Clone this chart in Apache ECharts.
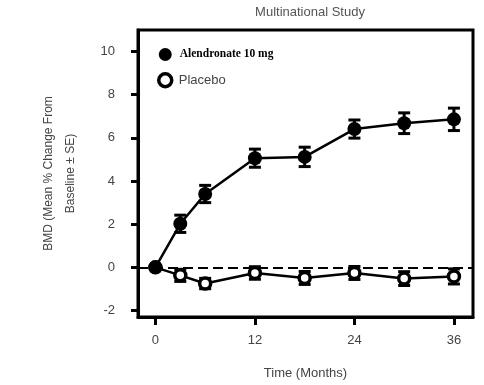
<!DOCTYPE html>
<html>
<head>
<meta charset="utf-8">
<script src="https://cdn.jsdelivr.net/npm/echarts@6/dist/echarts.min.js"></script>
<style>html,body{margin:0;padding:0;background:#fff}#c{width:484px;height:385px}</style>
</head>
<body>
<div id="c"></div>
<script>
var months = [0, 3, 6, 12, 18, 24, 30, 36];
var alendronate = [0, 2.02, 3.4, 5.06, 5.12, 6.41, 6.68, 6.86];
var alendronateSE = [0, 0.4, 0.4, 0.42, 0.45, 0.42, 0.48, 0.52];
var placebo = [0, -0.37, -0.75, -0.26, -0.49, -0.26, -0.52, -0.42];
var placeboSE = [0, 0.28, 0.24, 0.29, 0.3, 0.3, 0.32, 0.35];
var xTicks = [0, 12, 24, 36];
var yTicks = [-2, 0, 2, 4, 6, 8, 10];

var font = '"Liberation Sans Narrow", "Arial Narrow", "Liberation Sans", Arial, sans-serif';

function pairs(ys) { return months.map(function (m, i) { return [m, ys[i]]; }); }
function bars(ys, se) {
  var out = [];
  months.forEach(function (m, i) { if (se[i] > 0) out.push([m, ys[i] - se[i], ys[i] + se[i]]); });
  return out;
}
function renderBar(params, api) {
  var x = api.value(0);
  var lo = api.coord([x, api.value(1)]);
  var hi = api.coord([x, api.value(2)]);
  var hw = 6;
  var st = { stroke: '#000', lineWidth: 3 };
  return {
    type: 'group',
    children: [
      { type: 'line', shape: { x1: lo[0], y1: lo[1], x2: hi[0], y2: hi[1] }, style: st },
      { type: 'line', shape: { x1: lo[0] - hw, y1: lo[1], x2: lo[0] + hw, y2: lo[1] }, style: st },
      { type: 'line', shape: { x1: hi[0] - hw, y1: hi[1], x2: hi[0] + hw, y2: hi[1] }, style: st }
    ]
  };
}

var chart = echarts.init(document.getElementById('c'), null, { renderer: 'canvas' });
chart.setOption({
  animation: false,
  backgroundColor: '#fff',
  title: {
    text: 'Multinational Study', left: 305, top: 1, textAlign: 'center',
    textStyle: { fontFamily: font, fontSize: 13, fontWeight: 'normal', color: '#555' }
  },
  legend: {
    orient: 'vertical', left: 152, top: 43, itemGap: 11, itemWidth: 13, itemHeight: 13,
    icon: 'circle',
    data: [
      { name: 'Alendronate 10 mg', itemStyle: { color: '#000', borderWidth: 0 },
        textStyle: { fontFamily: '"Liberation Serif", "Times New Roman", serif', fontWeight: 'bold', fontSize: 11.5, color: '#000', padding: [0, 0, 0, 3] } },
      { name: 'Placebo', itemStyle: { color: '#fff', borderColor: '#000', borderWidth: 3.5 },
        textStyle: { fontFamily: font, fontSize: 13, color: '#444', padding: [0, 0, 0, 2] } }
    ]
  },
  grid: { left: 138, top: 30, width: 335, height: 287, show: true, borderColor: '#000', borderWidth: 3, backgroundColor: 'transparent' },
  xAxis: {
    type: 'value', min: -2.1, max: 38.3,
    name: 'Time (Months)', nameLocation: 'middle', nameGap: 50,
    nameTextStyle: { fontFamily: font, fontSize: 13, color: '#444' },
    axisLine: { show: true, onZero: false, lineStyle: { color: '#000', width: 3 } },
    axisTick: { show: true, customValues: xTicks, length: 8, lineStyle: { color: '#000', width: 3 } },
    axisLabel: { customValues: xTicks, margin: 17, fontFamily: font, fontSize: 13, color: '#444' },
    splitLine: { show: false }
  },
  yAxis: {
    type: 'value', min: -2.3, max: 11,
    name: 'BMD (Mean % Change From\nBaseline \u00b1 SE)', nameLocation: 'middle', nameGap: 56, nameRotate: 90,
    nameTextStyle: { fontFamily: font, fontSize: 12, color: '#444', lineHeight: 22, align: 'center' },
    axisLine: { show: true, onZero: false, lineStyle: { color: '#000', width: 3 } },
    axisTick: { show: true, customValues: yTicks, length: 7, lineStyle: { color: '#000', width: 3 } },
    axisLabel: { customValues: yTicks, margin: 23, fontFamily: font, fontSize: 13, color: '#444' },
    splitLine: { show: false }
  },
  series: [
    {
      type: 'custom', name: 'aErr', data: bars(alendronate, alendronateSE), renderItem: renderBar, z: 2, silent: true
    },
    {
      type: 'custom', name: 'pErr', data: bars(placebo, placeboSE), renderItem: renderBar, z: 2, silent: true
    },
    {
      type: 'line', name: 'Placebo', data: pairs(placebo), z: 3,
      symbol: 'circle', symbolSize: 11,
      lineStyle: { color: '#000', width: 2.5 },
      itemStyle: { color: '#fff', borderColor: '#000', borderWidth: 3.5 },
      markLine: {
        silent: true, symbol: 'none', label: { show: false },
        lineStyle: { color: '#000', width: 2, type: [10, 5] },
        data: [{ yAxis: 0 }]
      }
    },
    {
      type: 'line', name: 'Alendronate 10 mg', data: pairs(alendronate), z: 4,
      symbol: 'circle', symbolSize: 14,
      lineStyle: { color: '#000', width: 2.5 },
      itemStyle: { color: '#000', borderWidth: 0 }
    }
  ]
});
</script>
</body>
</html>
